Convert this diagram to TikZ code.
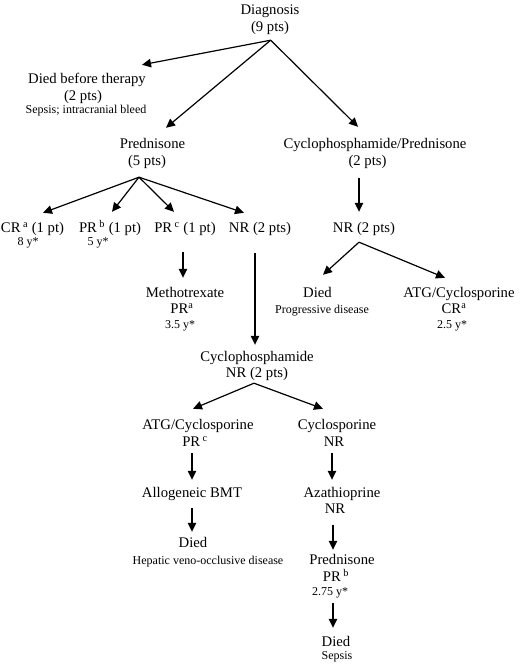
\documentclass[tikz,border=0pt]{standalone}
\usepackage{fontspec}
\setmainfont{Liberation Serif}
\usetikzlibrary{arrows.meta}
\tikzset{
  m/.style={font=\fontsize{14.7}{17}\selectfont, inner sep=0pt, text height=10pt, text depth=3pt, anchor=base},
  s/.style={font=\fontsize{12}{14}\selectfont, inner sep=0pt, text height=8.5pt, text depth=2.5pt, anchor=base},
  arr/.style={-{Triangle[length=9pt,width=8.5pt]}, line width=1.2pt},
}
\newcommand{\sups}[1]{\textsuperscript{#1}}
\begin{document}
\begin{tikzpicture}[x=1pt,y=-1pt]
\useasboundingbox (0,0) rectangle (520,666);
% nodes
\node[m] (dx1) at (270,14.5) {Diagnosis};
\node[m] (dx2) at (270,31.5) {(9 pts)};
\node[m] (dbt1) at (87,83.5) {Died before therapy};
\node[m] (dbt2) at (83,100.5) {(2 pts)};
\node[s] (dbt3) at (86,113.7) {Sepsis; intracranial bleed};
\node[m] (pr1) at (152.5,148.5) {Prednisone};
\node[m] (pr2) at (147,165.5) {(5 pts)};
\node[m] (cp1) at (375,148.5) {Cyclophosphamide/Prednisone};
\node[m] (cp2) at (367.5,165.5) {(2 pts)};
\node[m] (cr1) at (32.5,232.5) {CR\,\sups{a} (1 pt)};
\node[s] (cr2) at (28,245.7) {8 y*};
\node[m] (prb1) at (110,232.5) {PR\,\sups{b} (1 pt)};
\node[s] (prb2) at (98,245.7) {5 y*};
\node[m] (prc) at (185,232.5) {PR\,\sups{c} (1 pt)};
\node[m] (nr) at (260,232.5) {NR (2 pts)};
\node[m] (mtx1) at (185,297.5) {Methotrexate};
\node[m] (mtx2) at (182,313.5) {PR\sups{a}};
\node[s] (mtx3) at (180,328.7) {3.5 y*};
\node[m] (nr2) at (364,232.5) {NR (2 pts)};
\node[m] (died1) at (317.5,297.5) {Died};
\node[s] (died2) at (322,313.7) {Progressive disease};
\node[m] (atg1) at (459,297.5) {ATG/Cyclosporine};
\node[m] (atg2) at (454,313.5) {CR\sups{a}};
\node[s] (atg3) at (452,328.7) {2.5 y*};
\node[m] (cy1) at (257,361.5) {Cyclophosphamide};
\node[m] (cy2) at (257,377.5) {NR (2 pts)};
\node[m] (atgb1) at (198,429.5) {ATG/Cyclosporine};
\node[m] (atgb2) at (195,446.5) {PR\,\sups{c}};
\node[m] (cs1) at (337,429.5) {Cyclosporine};
\node[m] (cs2) at (334,446.5) {NR};
\node[m] (bmt) at (192,497.5) {Allogeneic BMT};
\node[m] (died3) at (193,547.5) {Died};
\node[s] (died4) at (208,564.7) {Hepatic veno-occlusive disease};
\node[m] (aza1) at (342,497.5) {Azathioprine};
\node[m] (aza2) at (335,513.5) {NR};
\node[m] (pd1) at (342,564.5) {Prednisone};
\node[m] (pd2) at (336,581.5) {PR\,\sups{b}};
\node[s] (pd3) at (330,595.7) {2.75 y*};
\node[m] (died5) at (336,646.5) {Died};
\node[s] (died6) at (337,659.7) {Sepsis};
% hubs
\coordinate (dxh) at ([shift={(0.7,5.5)}]dx2.south);
\coordinate (prh) at ([shift={(-8,8.5)}]pr2.south);
\coordinate (nr2h) at ([shift={(-5,6.5)}]nr2.south);
\coordinate (cyh) at ([shift={(-3,2.5)}]cy2.south);
% connectors
\draw[arr] (dxh) -- ([shift={(55,-8.5)}]dbt1.north);
\draw[arr] (dxh) -- ([shift={(13.5,-10.5)}]pr1.north);
\draw[arr] (dxh) -- ([shift={(-17,-11.5)}]cp1.north);
\draw[arr] (prh) -- ([shift={(10.5,-9.5)}]cr1.north);
\draw[arr] (prh) -- ([shift={(2,-10.5)}]prb1.north);
\draw[arr] (prh) -- ([shift={(-11,-10.5)}]prc.north);
\draw[arr] (prh) -- ([shift={(-16,-9.5)}]nr.north);
\draw[arr] ([shift={(-2,16.5)}]prc.south) -- ([shift={(-2,-9.5)}]mtx1.north);
\draw[arr] ([shift={(-5,17.5)}]nr.south) -- ([shift={(-2,-6.5)}]cy1.north);
\draw[arr] ([shift={(-8.5,9.5)}]cp2.south) -- ([shift={(-5,-10.5)}]nr2.north);
\draw[arr] (nr2h) -- ([shift={(5.5,-12.5)}]died1.north);
\draw[arr] (nr2h) -- ([shift={(-14,-9.5)}]atg1.north);
\draw[arr] (cyh) -- ([shift={(-5,-10.5)}]atgb1.north);
\draw[arr] (cyh) -- ([shift={(-14,-10.5)}]cs1.north);
\draw[arr] ([shift={(-3,3.5)}]atgb2.south) -- ([shift={(0,-7.5)}]bmt.north);
\draw[arr] ([shift={(-2,3.5)}]cs2.south) -- ([shift={(-10,-7.5)}]aza1.north);
\draw[arr] ([shift={(0,7.5)}]bmt.south) -- ([shift={(-1,-5.5)}]died3.north);
\draw[arr] ([shift={(-2,8.5)}]aza2.south) -- ([shift={(-9,-4.5)}]pd1.north);
\draw[arr] ([shift={(3,4.8)}]pd3.south) -- ([shift={(-3,-8.5)}]died5.north);
\end{tikzpicture}
\end{document}
